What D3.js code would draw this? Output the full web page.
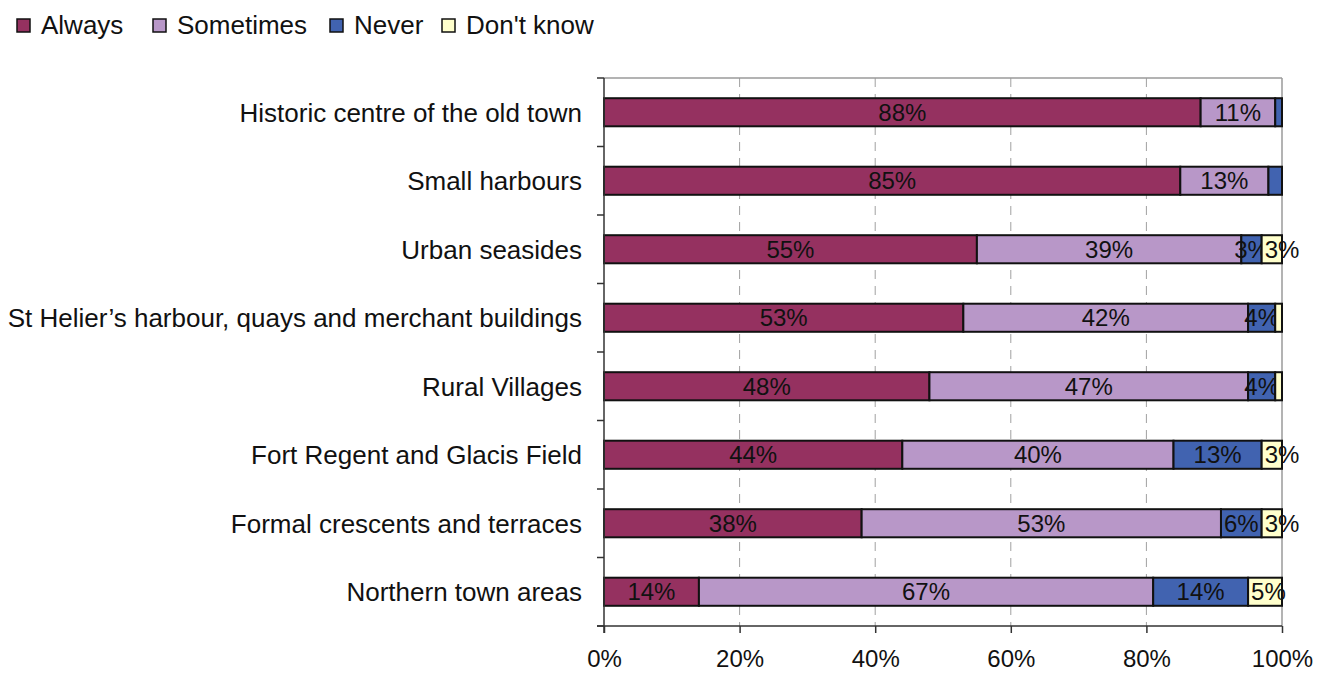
<!DOCTYPE html>
<html>
<head>
<meta charset="utf-8">
<script src="https://cdn.jsdelivr.net/npm/d3@7"></script>
<style>
  html, body { margin: 0; padding: 0; background: #fff; }
  svg { display: block; font-family: "Liberation Sans", Arial, sans-serif; }
</style>
</head>
<body>
<svg id="chart" width="1329" height="673"></svg>
<script>
// Survey areas, top to bottom
const categories = [
  "Historic centre of the old town",
  "Small harbours",
  "Urban seasides",
  "St Helier\u2019s harbour, quays and merchant buildings",
  "Rural Villages",
  "Fort Regent and Glacis Field",
  "Formal crescents and terraces",
  "Northern town areas"
];
const seriesNames = ["Always", "Sometimes", "Never", "Don't know"];
const always    = [88, 85, 55, 53, 48, 44, 38, 14];
const sometimes = [11, 13, 39, 42, 47, 40, 53, 67];
const never     = [1, 2, 3, 4, 4, 13, 6, 14];
const dontKnow  = [0, 0, 3, 1, 1, 3, 3, 5];
const xTicks = [0, 20, 40, 60, 80, 100];

const colors = ["#953160", "#B897C8", "#4163B0", "#FFFFCC"];

const rows = categories.map((c, i) => ({
  category: c,
  "Always": always[i],
  "Sometimes": sometimes[i],
  "Never": never[i],
  "Don't know": dontKnow[i]
}));

const svg = d3.select("#chart");
const plot = { left: 604, right: 1282, top: 78, bottom: 626 };

const x = d3.scaleLinear().domain([0, 100]).range([plot.left, plot.right]);
const y = d3.scaleBand().domain(categories).range([plot.top, plot.bottom])
  .paddingInner(0.59).paddingOuter(0.295);
const yBound = d3.scaleLinear().domain([0, categories.length]).range([plot.top, plot.bottom]);

const stacked = d3.stack().keys(seriesNames)(rows);

// Dashed vertical gridlines
svg.append("g")
  .selectAll("line")
  .data(xTicks.filter(t => t > 0 && t < 100))
  .join("line")
  .attr("x1", d => x(d)).attr("x2", d => x(d))
  .attr("y1", plot.top).attr("y2", plot.bottom)
  .attr("stroke", "#a0a0a0").attr("stroke-width", 1)
  .attr("stroke-dasharray", "9,7");

// Plot frame: top and right edges
svg.append("line")
  .attr("x1", plot.left).attr("x2", plot.right)
  .attr("y1", plot.top).attr("y2", plot.top)
  .attr("stroke", "#9a9a9a").attr("stroke-width", 1.5);
svg.append("line")
  .attr("x1", plot.right).attr("x2", plot.right)
  .attr("y1", plot.top).attr("y2", plot.bottom)
  .attr("stroke", "#9a9a9a").attr("stroke-width", 1.5);

// Bars
const layers = svg.append("g")
  .selectAll("g")
  .data(stacked)
  .join("g")
  .attr("fill", (d, i) => colors[i]);

layers.selectAll("rect")
  .data(d => d.filter(s => s[1] - s[0] > 0))
  .join("rect")
  .attr("x", d => x(d[0]))
  .attr("y", d => y(d.data.category))
  .attr("width", d => x(d[1]) - x(d[0]))
  .attr("height", y.bandwidth())
  .attr("stroke", "#111")
  .attr("stroke-width", 2);

// Value labels inside segments; the last series starts its label at the segment edge
const lastKey = seriesNames[seriesNames.length - 1];
layers.selectAll("text")
  .data(d => d.filter(s => s[1] - s[0] >= 3).map(s => ({ s, key: d.key })))
  .join("text")
  .attr("x", d => d.key === lastKey ? x(d.s[0]) + 3 : (x(d.s[0]) + x(d.s[1])) / 2)
  .attr("y", d => y(d.s.data.category) + y.bandwidth() / 2)
  .attr("dy", "0.36em")
  .attr("text-anchor", d => d.key === lastKey ? "start" : "middle")
  .attr("fill", "#111")
  .attr("font-size", 24)
  .text(d => (d.s[1] - d.s[0]) + "%");

// Left axis with ticks at category boundaries
svg.append("line")
  .attr("x1", plot.left).attr("x2", plot.left)
  .attr("y1", plot.top).attr("y2", plot.bottom + 7)
  .attr("stroke", "#333").attr("stroke-width", 1.5);
svg.append("g")
  .selectAll("line")
  .data(d3.range(categories.length + 1))
  .join("line")
  .attr("x1", plot.left - 7).attr("x2", plot.left)
  .attr("y1", d => yBound(d)).attr("y2", d => yBound(d))
  .attr("stroke", "#333").attr("stroke-width", 1.5);

// Category labels
svg.append("g")
  .selectAll("text")
  .data(categories)
  .join("text")
  .attr("x", plot.left - 22)
  .attr("y", d => y(d) + y.bandwidth() / 2)
  .attr("dy", "0.36em")
  .attr("text-anchor", "end")
  .attr("fill", "#111")
  .attr("font-size", 26)
  .text(d => d);

// Bottom axis
const xAxis = d3.axisBottom(x)
  .tickValues(xTicks)
  .tickSize(7)
  .tickPadding(17)
  .tickFormat(d => d + "%");
const gx = svg.append("g")
  .attr("transform", `translate(0,${plot.bottom})`)
  .call(xAxis);
gx.select(".domain").attr("stroke", "#333").attr("stroke-width", 1.5)
  .attr("d", `M${plot.left - 7},0H${plot.right}`);
gx.selectAll(".tick line").attr("stroke", "#333").attr("stroke-width", 1.5);
gx.selectAll(".tick text")
  .attr("font-family", "Liberation Sans, Arial, sans-serif")
  .attr("font-size", 24)
  .attr("fill", "#111");

// Legend
const legendX = [17, 153, 330, 442];
const legend = svg.append("g")
  .selectAll("g")
  .data(seriesNames)
  .join("g")
  .attr("transform", (d, i) => `translate(${legendX[i]},19)`);
legend.append("rect")
  .attr("width", 13).attr("height", 13)
  .attr("fill", (d, i) => colors[i])
  .attr("stroke", "#111").attr("stroke-width", 1.5);
legend.append("text")
  .attr("x", 24).attr("y", 6)
  .attr("dy", "0.36em")
  .attr("fill", "#111")
  .attr("font-size", 26)
  .text(d => d);
</script>
</body>
</html>
